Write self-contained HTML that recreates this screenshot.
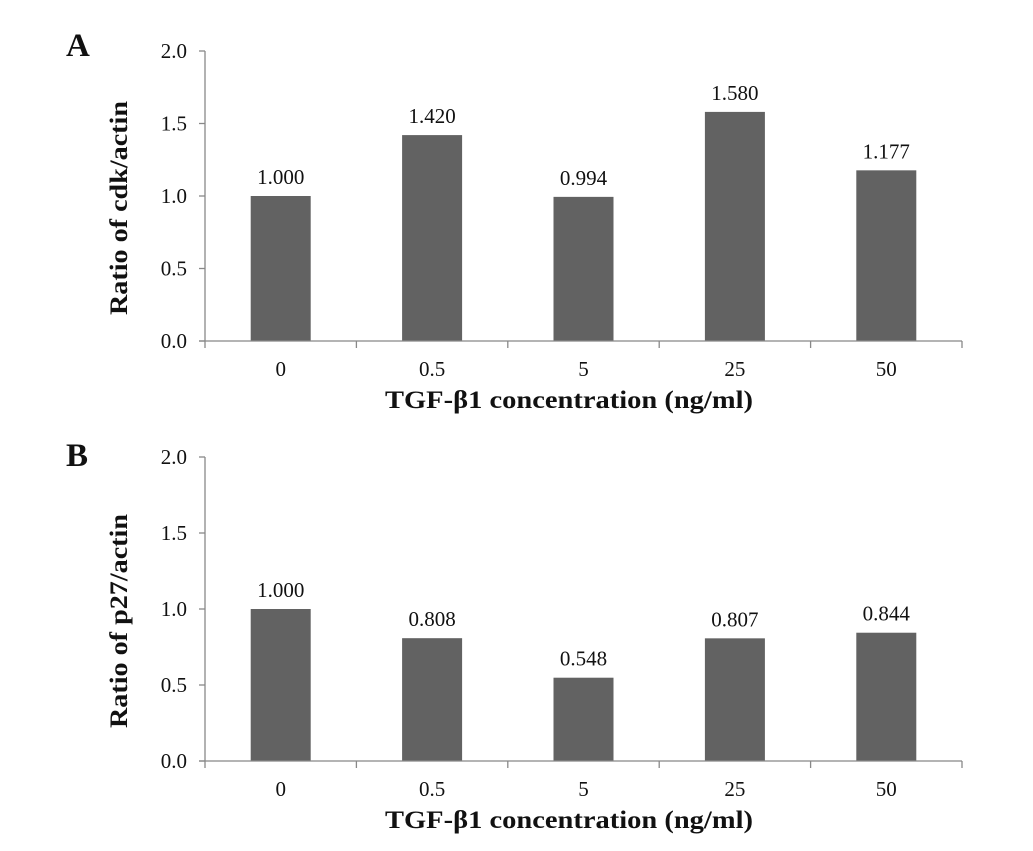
<!DOCTYPE html>
<html><head><meta charset="utf-8"><style>
body{margin:0;background:#fff;}
svg text{font-family:"Liberation Serif",serif;fill:#111;}
</style></head><body>
<svg id="chart" width="1033" height="846" xmlns="http://www.w3.org/2000/svg"></svg>
<script>
const categories=["0","0.5","5","25","50"];
const valuesA=[1.000,1.420,0.994,1.580,1.177];
const valuesB=[1.000,0.808,0.548,0.807,0.844];
const labelsA=["1.000","1.420","0.994","1.580","1.177"];
const labelsB=["1.000","0.808","0.548","0.807","0.844"];
const yTicks=[0,0.5,1.0,1.5,2.0];
const yTickLabels=["0.0","0.5","1.0","1.5","2.0"];
const NS="http://www.w3.org/2000/svg";
const svg=document.getElementById('chart');
function mk(tag,attrs,parent){const e=document.createElementNS(NS,tag);for(const k in attrs)e.setAttribute(k,attrs[k]);(parent||svg).appendChild(e);return e;}
function panel(id,letter,top,bottom,vals,labs,ytitle,letterY){
  const g=mk('g',{});
  
  
  const x0=205,x1=962,yMax=2.0;
  const y=v=>bottom-(v/yMax)*(bottom-top);
  const cw=(x1-x0)/categories.length;
  const xc=i=>x0+cw*(i+0.5);
  const L=mk('text',{x:66,y:letterY,'font-size':33,'font-weight':'bold'},g);L.textContent=letter;
  
  const ya=mk('line',{x1:x0,y1:top,x2:x0,y2:bottom,stroke:'#888','stroke-width':1.3},g);
  
  yTicks.forEach((t,i)=>{
    mk('line',{x1:x0-6,y1:y(t),x2:x0,y2:y(t),stroke:'#888','stroke-width':1.3},g);
    const tx=mk('text',{x:x0-18,y:y(t)+7,'font-size':21,'text-anchor':'end'},g);tx.textContent=yTickLabels[i];
    
  });
  vals.forEach((v,i)=>{
    const b=mk('rect',{x:xc(i)-30,y:y(v),width:60,height:bottom-y(v),fill:'#626262'},g);
    
    const lt=mk('text',{x:xc(i),y:y(v)-12,'font-size':21,'text-anchor':'middle'},g);lt.textContent=labs[i];
    
    const ct=mk('text',{x:xc(i),y:bottom+35,'font-size':21,'text-anchor':'middle'},g);ct.textContent=categories[i];
    
  });
  const xa=mk('line',{x1:x0-6,y1:bottom,x2:x1,y2:bottom,stroke:'#888','stroke-width':1.3},g);
  
  for(let i=0;i<=categories.length;i++)mk('line',{x1:x0+cw*i,y1:bottom,x2:x0+cw*i,y2:bottom+7,stroke:'#888','stroke-width':1.3},g);
  const xt=mk('text',{x:385,y:bottom+67,'font-size':25,'font-weight':'bold',textLength:368,lengthAdjust:'spacingAndGlyphs'},g);
  xt.textContent='TGF-β1 concentration (ng/ml)';
  
  const cy=(top+bottom)/2+12;
  const yt=mk('text',{x:127,y:cy,'font-size':25,'font-weight':'bold','text-anchor':'middle',textLength:214,lengthAdjust:'spacingAndGlyphs',transform:`rotate(-90 127 ${cy})`},g);
  yt.textContent=ytitle;
  
}
panel('a','A',51,341,valuesA,labelsA,'Ratio of cdk/actin',56);
panel('b','B',457,761,valuesB,labelsB,'Ratio of p27/actin',466);
</script>
</body></html>
